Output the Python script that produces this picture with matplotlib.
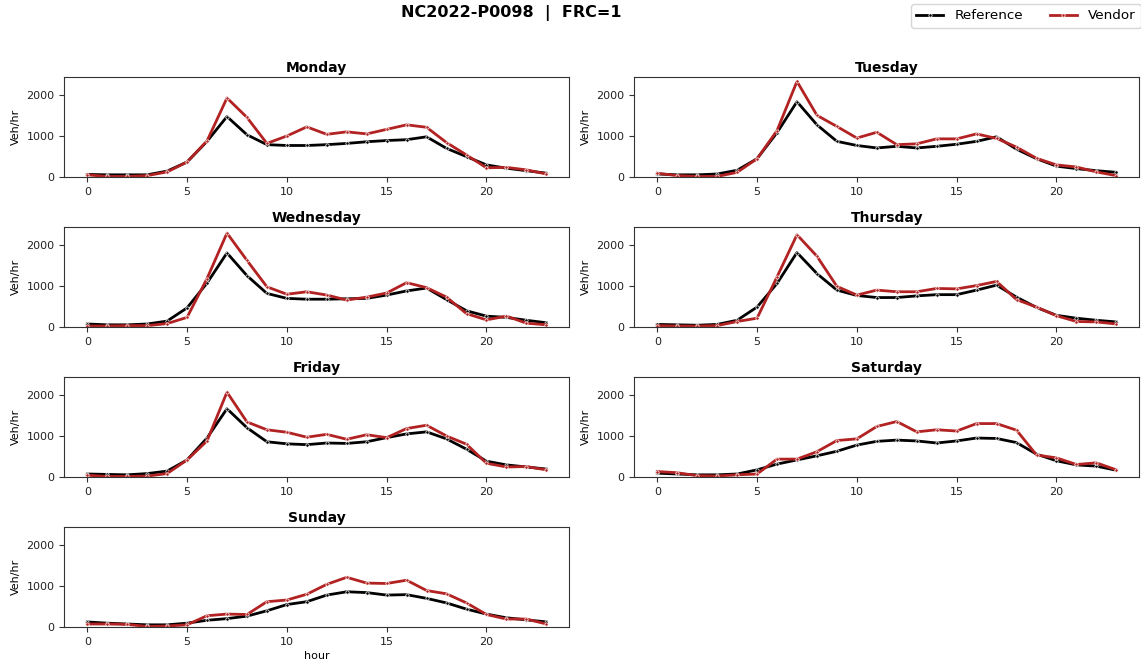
import matplotlib
matplotlib.use("Agg")
import matplotlib.pyplot as plt
from matplotlib.lines import Line2D

hours = list(range(24))
days = ["Monday", "Tuesday", "Wednesday", "Thursday", "Friday", "Saturday", "Sunday"]

reference = {
    "Monday":    [70, 60, 60, 60, 150, 370, 870, 1470, 1030, 790, 770, 770, 790, 820, 860, 890, 910, 980, 700, 500, 300, 220, 160, 100],
    "Tuesday":   [80, 60, 60, 80, 170, 450, 1080, 1830, 1270, 870, 770, 710, 750, 710, 750, 800, 870, 980, 680, 450, 270, 210, 160, 120],
    "Wednesday": [80, 60, 60, 80, 150, 470, 1070, 1800, 1250, 820, 700, 680, 680, 690, 700, 780, 880, 950, 670, 400, 270, 240, 170, 110],
    "Thursday":  [70, 60, 50, 70, 170, 490, 1060, 1810, 1300, 900, 770, 720, 720, 760, 790, 790, 900, 1020, 730, 480, 290, 220, 170, 130],
    "Friday":    [80, 70, 60, 90, 150, 420, 950, 1660, 1200, 860, 810, 790, 830, 820, 860, 960, 1050, 1100, 930, 680, 390, 300, 250, 200],
    "Saturday":  [100, 80, 60, 60, 80, 180, 320, 420, 520, 630, 780, 870, 900, 880, 830, 880, 950, 940, 840, 560, 400, 300, 270, 170],
    "Sunday":    [130, 100, 80, 60, 60, 100, 170, 210, 270, 400, 550, 620, 780, 860, 840, 780, 790, 700, 590, 440, 320, 230, 180, 130],
}
vendor = {
    "Monday":    [60, 20, 20, 40, 130, 370, 880, 1920, 1450, 820, 1000, 1220, 1040, 1100, 1050, 1160, 1270, 1210, 840, 540, 230, 240, 180, 80],
    "Tuesday":   [100, 40, 20, 20, 120, 450, 1130, 2320, 1500, 1230, 950, 1090, 790, 810, 930, 930, 1050, 940, 730, 460, 300, 250, 130, 40],
    "Wednesday": [30, 30, 40, 40, 90, 240, 1180, 2280, 1620, 980, 800, 860, 780, 660, 730, 830, 1080, 960, 730, 330, 180, 270, 100, 60],
    "Thursday":  [40, 30, 30, 40, 140, 220, 1220, 2240, 1720, 990, 780, 900, 860, 860, 940, 930, 1010, 1110, 670, 490, 280, 140, 130, 80],
    "Friday":    [50, 20, 20, 30, 90, 420, 880, 2060, 1340, 1150, 1090, 970, 1040, 920, 1030, 960, 1180, 1260, 1000, 800, 340, 250, 260, 180],
    "Saturday":  [140, 110, 40, 30, 60, 80, 440, 440, 620, 890, 930, 1230, 1350, 1100, 1150, 1120, 1300, 1300, 1140, 540, 470, 310, 350, 180],
    "Sunday":    [80, 80, 70, 20, 30, 60, 280, 320, 310, 620, 660, 800, 1040, 1210, 1070, 1060, 1140, 890, 810, 590, 310, 200, 200, 80],
}
series_names = ["Reference", "Vendor"]
series_colors = ["black", "#B22222"]
title = "NC2022-P0098  |  FRC=1"

W, H = 1141, 663
fig = plt.figure(figsize=(W / 100, H / 100), dpi=100)

col_x = [64.3, 634.3]
ax_w = 505
ax_h = 100
row_top = [77.3, 227.3, 377.3, 527.3]

style = dict(linewidth=2, marker="o", markersize=2.4,
             markeredgecolor="white", markeredgewidth=0.5)

for i, day in enumerate(days):
    r, c = divmod(i, 2)
    x0 = col_x[c]
    top = row_top[r]
    ax = fig.add_axes([x0 / W, 1 - (top + ax_h) / H, ax_w / W, ax_h / H])
    ax.plot(hours, reference[day], color=series_colors[0], **style)
    ax.plot(hours, vendor[day], color=series_colors[1], **style)
    ax.set_title(day, fontsize=10, fontweight="bold", pad=4)
    ax.set_ylim(0, 2420)
    ax.set_xlim(-1.15, 24.15)
    ax.set_yticks([0, 1000, 2000])
    ax.set_xticks([0, 5, 10, 15, 20])
    ax.tick_params(labelsize=8, length=3.5, width=0.8, colors="#333333", labelcolor="#222222")
    for s in ax.spines.values():
        s.set_color("#333333")
        s.set_linewidth(0.8)
    ax.set_ylabel("Veh/hr", fontsize=8, labelpad=4)
    if day == "Sunday":
        ax.set_xlabel("hour", fontsize=8, labelpad=3)

fig.text(511 / W, 1 - 13 / H, title, ha="center", va="center",
         fontsize=11.5, fontweight="bold")

handles = [Line2D([0], [0], color=col, **style) for col in series_colors]
fig.legend(handles, series_names, loc="upper right", bbox_to_anchor=(1.002, 0.998),
           ncol=2, fontsize=9.7, frameon=True, borderaxespad=0.2,
           columnspacing=2.0, handlelength=2.0)

fig.savefig("out.png", dpi=100)
